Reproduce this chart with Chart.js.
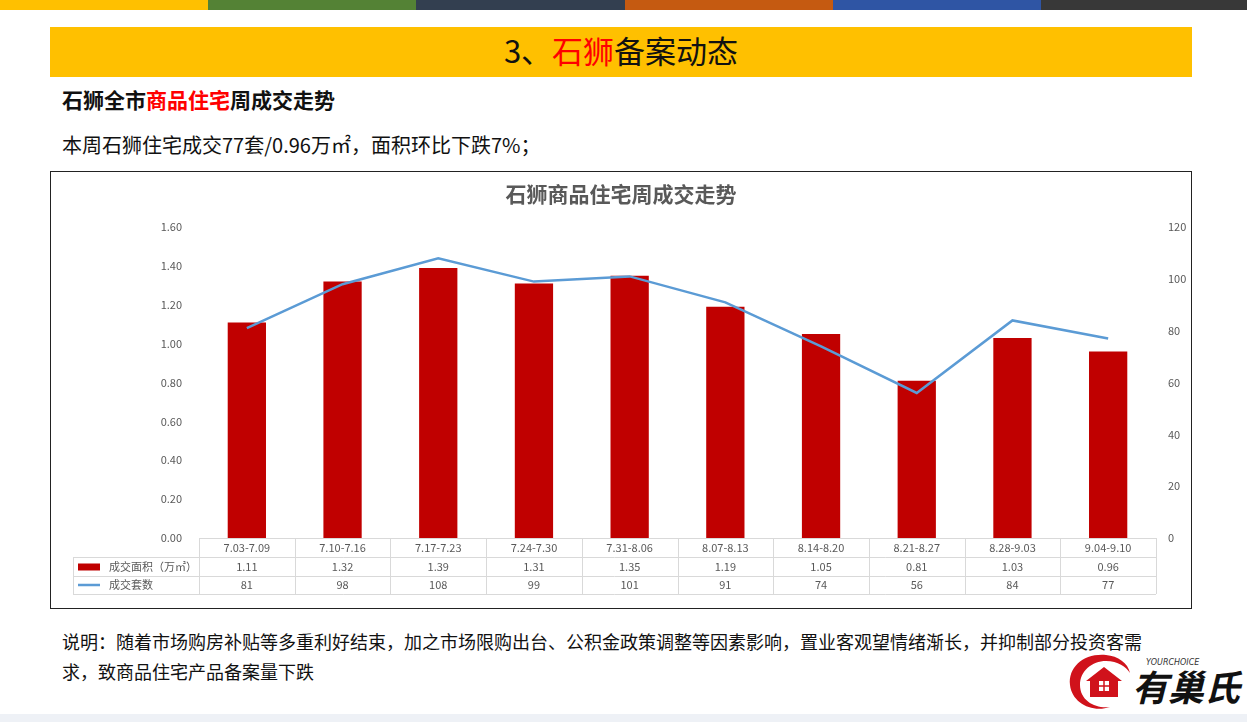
<!DOCTYPE html>
<html>
<head>
<meta charset="utf-8">
<script src="https://cdn.jsdelivr.net/npm/chart.js@4.4.1/dist/chart.umd.min.js"></script>
<style>
    body { margin: 0; width: 1247px; height: 722px; position: relative; overflow: hidden; background: #fff; font-family: "Noto Sans CJK SC", sans-serif; color: #111; }
    .strip { position: absolute; top: 0; height: 10px; }
    .fade { position: absolute; top: 10px; left: 0; width: 1247px; height: 12px; background: linear-gradient(rgba(255,255,255,0.3), #fff); }
    #titleBar { position: absolute; left: 50px; top: 27px; width: 1142px; height: 50px; background: #FFC000; text-align: center; line-height: 46px; font-size: 31px; }
    .red { color: #FF0000; }
    #sub1 { position: absolute; left: 62px; top: 84px; font-size: 21px; font-weight: bold; }
    #sub2 { position: absolute; left: 62px; top: 130px; font-size: 20px; }
    #box { position: absolute; left: 50px; top: 171px; width: 1140px; height: 436px; border: 1px solid #222; }
    #note { position: absolute; left: 62px; top: 626px; font-size: 18px; line-height: 30px; width: 1130px; }
    #logo { position: absolute; left: 1066px; top: 651px; }
    #bottom { position: absolute; left: 0; top: 714px; width: 1247px; height: 8px; background: #eef1f6; }
</style>
</head>
<body>
<div class="strip" style="left:0;width:208px;background:#FFC000"></div>
<div class="strip" style="left:208px;width:208px;background:#548235"></div>
<div class="strip" style="left:416px;width:209px;background:#333F50"></div>
<div class="strip" style="left:625px;width:208px;background:#C55A11"></div>
<div class="strip" style="left:833px;width:208px;background:#2F55A4"></div>
<div class="strip" style="left:1041px;width:206px;background:#383838"></div>
<div class="fade"></div>

<div id="titleBar">3、<span class="red">石狮</span>备案动态</div>
<div id="sub1">石狮全市<span class="red">商品住宅</span>周成交走势</div>
<div id="sub2">本周石狮住宅成交77套/0.96万㎡，面积环比下跌7%；</div>

<div id="box"><canvas id="myChart" width="1140" height="436"></canvas></div>

<div id="note">说明：随着市场购房补贴等多重利好结束，加之市场限购出台、公积金政策调整等因素影响，置业客观望情绪渐长，并抑制部分投资客需<br>求，致商品住宅产品备案量下跌</div>

<svg id="logo" width="178" height="62" viewBox="0 0 178 62">
    <path d="M40 4 C18 2 2 16 4 34 C6 52 26 62 44 56 C30 58 14 50 14 34 C14 20 26 10 40 10 C52 10 60 16 64 22 C62 12 52 5 40 4 Z" fill="#D0121B"/>
    <path d="M20 30 L38 16 L56 30 L52 30 L52 46 L24 46 L24 30 Z" fill="#D0121B"/>
    <rect x="33" y="30" width="10" height="10" fill="#fff"/>
    <line x1="38" y1="30" x2="38" y2="40" stroke="#D0121B" stroke-width="1.5"/>
    <line x1="33" y1="35" x2="43" y2="35" stroke="#D0121B" stroke-width="1.5"/>
    <text x="80" y="14" font-size="8" font-style="italic" fill="#333" font-family="DejaVu Sans">YOURCHOICE</text>
    <text x="66" y="50" font-size="36" font-weight="bold" font-style="italic" fill="#111" font-family="Noto Sans CJK SC">有巢氏</text>
</svg>
<div id="bottom"></div>

<script>
const weeks = ["7.03-7.09", "7.10-7.16", "7.17-7.23", "7.24-7.30", "7.31-8.06", "8.07-8.13", "8.14-8.20", "8.21-8.27", "8.28-9.03", "9.04-9.10"];
const areaValues = [1.11, 1.32, 1.39, 1.31, 1.35, 1.19, 1.05, 0.81, 1.03, 0.96];
const unitCounts = [81, 98, 108, 99, 101, 91, 74, 56, 84, 77];
const areaLabel = "成交面积（万㎡）";
const countLabel = "成交套数";
const chartTitle = "石狮商品住宅周成交走势";

const barColor = "#C00000";
const lineColor = "#5B9BD5";
const gridColor = "#D9D9D9";
const textColor = "#595959";

// data table under the plot, columns follow the x scale
const dataTable = {
    id: "dataTable",
    afterDraw(chart) {
        const ctx = chart.ctx;
        const x = chart.scales.x;
        const area = chart.chartArea;
        const half = (x.getPixelForValue(1) - x.getPixelForValue(0)) / 2;
        const top = area.bottom;
        const r1 = top + 19;
        const r2 = r1 + 19;
        const r3 = r2 + 18;
        const legendLeft = 22;

        ctx.save();
        ctx.strokeStyle = gridColor;
        ctx.lineWidth = 1;
        ctx.beginPath();
        ctx.moveTo(area.left, top + 0.5); ctx.lineTo(area.right, top + 0.5);
        for (const y of [r1, r2, r3]) {
            ctx.moveTo(legendLeft, y + 0.5); ctx.lineTo(area.right, y + 0.5);
        }
        ctx.moveTo(legendLeft + 0.5, r1); ctx.lineTo(legendLeft + 0.5, r3);
        for (let i = 0; i <= weeks.length; i++) {
            const px = Math.round(i < weeks.length ? x.getPixelForValue(i) - half : area.right) + 0.5;
            ctx.moveTo(px, top); ctx.lineTo(px, r3);
        }
        ctx.stroke();

        ctx.font = "11px 'Noto Sans CJK SC', sans-serif";
        ctx.fillStyle = textColor;
        ctx.textAlign = "center";
        ctx.textBaseline = "middle";
        for (let i = 0; i < weeks.length; i++) {
            const cx = x.getPixelForValue(i);
            ctx.fillText(areaValues[i].toFixed(2), cx, (r1 + r2) / 2);
            ctx.fillText(String(unitCounts[i]), cx, (r2 + r3) / 2);
        }

        // legend keys
        ctx.fillStyle = barColor;
        ctx.fillRect(legendLeft + 5, (r1 + r2) / 2 - 3, 22, 7);
        ctx.strokeStyle = lineColor;
        ctx.lineWidth = 2.5;
        ctx.beginPath();
        ctx.moveTo(legendLeft + 5, (r2 + r3) / 2);
        ctx.lineTo(legendLeft + 27, (r2 + r3) / 2);
        ctx.stroke();
        ctx.fillStyle = textColor;
        ctx.textAlign = "left";
        ctx.fillText(areaLabel, legendLeft + 36, (r1 + r2) / 2);
        ctx.fillText(countLabel, legendLeft + 36, (r2 + r3) / 2);
        ctx.restore();
    }
};

const ctx = document.getElementById("myChart").getContext("2d");
const chart = new Chart(ctx, {
    data: {
        labels: weeks,
        datasets: [{
                type: "line",
                label: countLabel,
                data: unitCounts,
                yAxisID: "y2",
                borderColor: lineColor,
                borderWidth: 2.5,
                pointRadius: 0,
                tension: 0,
                order: 0
            },
            {
                type: "bar",
                label: areaLabel,
                data: areaValues,
                yAxisID: "y",
                backgroundColor: barColor,
                barPercentage: 0.4,
                categoryPercentage: 1,
                order: 1
            }
        ]
    },
    options: {
        responsive: false,
        animation: false,
        layout: { padding: { left: 0, right: 0, top: 0, bottom: 51 } },
        plugins: {
            legend: { display: false },
            tooltip: { enabled: false },
            title: {
                display: true,
                text: chartTitle,
                color: textColor,
                font: { family: "'Noto Sans CJK SC'", size: 21, weight: "bold" },
                padding: { top: 9, bottom: 21 }
            }
        },
        scales: {
            x: {
                offset: true,
                grid: { display: false, drawTicks: false },
                border: { display: true, color: gridColor },
                ticks: { color: textColor, font: { family: "'Noto Sans CJK SC'", size: 11 }, padding: 3, maxRotation: 0, autoSkip: false },
                afterFit: s => { s.height = 19; }
            },
            y: {
                position: "left",
                min: 0,
                max: 1.6,
                grid: { display: false },
                border: { display: false },
                ticks: { stepSize: 0.2, color: textColor, font: { family: "'Noto Sans CJK SC'", size: 11 }, padding: 9, callback: v => v.toFixed(2) },
                afterFit: s => { s.width = 148; }
            },
            y2: {
                position: "right",
                min: 0,
                max: 120,
                grid: { display: false },
                border: { display: false },
                ticks: { stepSize: 20, color: textColor, font: { family: "'Noto Sans CJK SC'", size: 11 }, padding: 4 },
                afterFit: s => { s.width = 35; }
            }
        }
    },
    plugins: [dataTable]
});
</script>
</body>
</html>
